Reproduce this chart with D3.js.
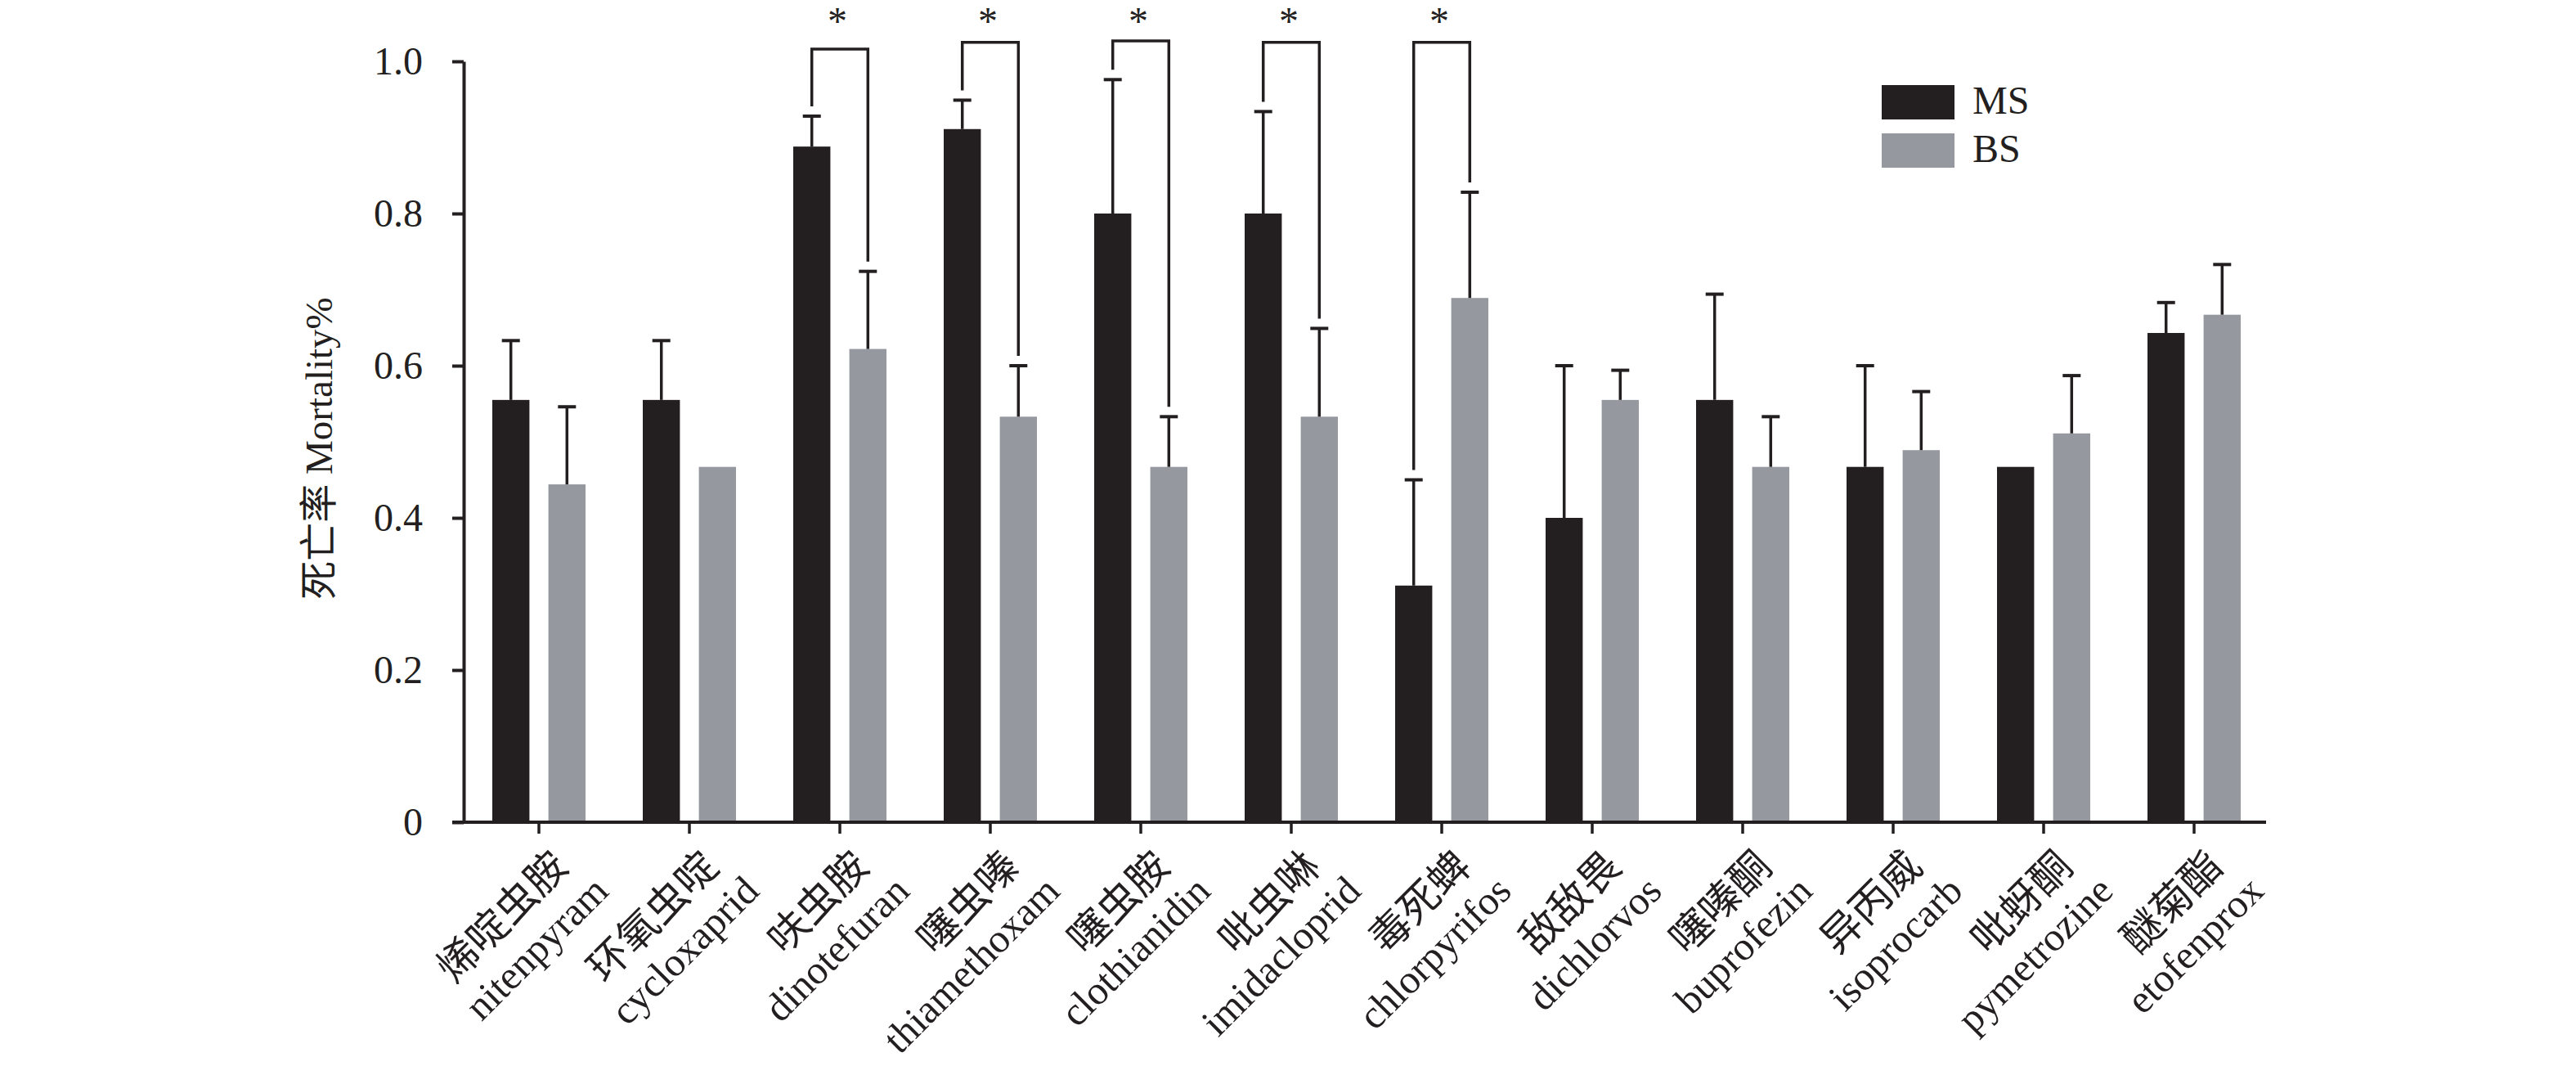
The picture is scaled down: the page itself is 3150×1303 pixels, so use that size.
<!DOCTYPE html>
<html>
<head>
<meta charset="utf-8">
<script src="https://cdn.jsdelivr.net/npm/d3@7"></script>
<style>
  body { margin: 0; background: #fff; }
  text { font-family: "Liberation Serif", "Noto Sans CJK SC", serif; fill: #231f20; }
</style>
</head>
<body>
<div id="chart"></div>
<script>
// 杀虫剂名称（中文 / 英文）
const namesCN = ['烯啶虫胺', '环氧虫啶', '呋虫胺', '噻虫嗪', '噻虫胺', '吡虫啉', '毒死蜱', '敌敌畏', '噻嗪酮', '异丙威', '吡蚜酮', '醚菊酯']
const namesEN = ['nitenpyram', 'cycloxaprid', 'dinotefuran', 'thiamethoxam', 'clothianidin', 'imidacloprid',
  'chlorpyrifos', 'dichlorvos', 'buprofezin', 'isoprocarb', 'pymetrozine', 'etofenprox']
const seriesNames = ['MS', 'BS']
const msMean = [0.555, 0.555, 0.888, 0.911, 0.800, 0.800, 0.311, 0.400, 0.555, 0.467, 0.467, 0.643]
const msErr = [0.078, 0.078, 0.040, 0.038, 0.176, 0.134, 0.139, 0.200, 0.139, 0.133, 0, 0.040]
const bsMean = [0.444, 0.467, 0.622, 0.533, 0.467, 0.533, 0.689, 0.555, 0.467, 0.489, 0.511, 0.667]
const bsErr = [0.102, 0, 0.102, 0.067, 0.066, 0.116, 0.139, 0.039, 0.066, 0.077, 0.076, 0.066]
// 显著性标记 (category index) + 括号顶高
const sigIndex = [2, 3, 4, 5, 6]
const sigTop = [1.016, 1.025, 1.027, 1.025, 1.025]
const starLevel = 1.035
const yTicks = [0, 0.2, 0.4, 0.6, 0.8, 1.0]

const colors = { MS: '#231f20', BS: '#96989f' }
const ink = '#231f20'

const svg = d3.select('#chart').append('svg')
  .attr('width', 3150)
  .attr('height', 1303)

const x = d3.scaleBand().domain(namesEN).range([567, 2775]).padding(0)
const xs = d3.scaleBand().domain(seriesNames).range([35, 149]).paddingInner(0.338)
const y = d3.scaleLinear().domain([0, 1]).range([1005, 75])

const data = namesEN.map((n, i) => ({
  name: n,
  i: i,
  vals: [
    { s: 'MS', v: msMean[i], e: msErr[i] },
    { s: 'BS', v: bsMean[i], e: bsErr[i] }
  ]
}))

// bars
const groups = svg.append('g').selectAll('g').data(data).join('g')
  .attr('transform', d => 'translate(' + x(d.name) + ',0)')

groups.selectAll('rect').data(d => d.vals).join('rect')
  .attr('x', d => xs(d.s))
  .attr('width', xs.bandwidth())
  .attr('y', d => y(d.v))
  .attr('height', d => y(0) - y(d.v))
  .attr('fill', d => colors[d.s])

// error bars
const errs = groups.selectAll('g.err').data(d => d.vals.filter(v => v.e > 0)).join('g')
  .attr('class', 'err')
errs.append('line')
  .attr('x1', d => xs(d.s) + xs.bandwidth() / 2)
  .attr('x2', d => xs(d.s) + xs.bandwidth() / 2)
  .attr('y1', d => y(d.v))
  .attr('y2', d => y(d.v + d.e))
  .attr('stroke', ink).attr('stroke-width', 3.5)
errs.append('line')
  .attr('x1', d => xs(d.s) + xs.bandwidth() / 2 - 11)
  .attr('x2', d => xs(d.s) + xs.bandwidth() / 2 + 11)
  .attr('y1', d => y(d.v + d.e))
  .attr('y2', d => y(d.v + d.e))
  .attr('stroke', ink).attr('stroke-width', 4)

// significance brackets
const gap = 12
sigIndex.forEach((ci, k) => {
  const d = data[ci]
  const xl = x(d.name) + xs('MS') + xs.bandwidth() / 2
  const xr = x(d.name) + xs('BS') + xs.bandwidth() / 2
  const yl = y(d.vals[0].v + d.vals[0].e) - gap
  const yr = y(d.vals[1].v + d.vals[1].e) - gap
  const yt = y(sigTop[k])
  svg.append('path')
    .attr('d', d3.line()([[xl, yl], [xl, yt], [xr, yt], [xr, yr]]))
    .attr('fill', 'none')
    .attr('stroke', ink)
    .attr('stroke-width', 3.5)
  svg.append('text')
    .attr('x', (xl + xr) / 2 - 3)
    .attr('y', y(starLevel))
    .attr('text-anchor', 'middle')
    .attr('font-size', 48)
    .text('*')
})

// y axis
const yAxis = svg.append('g')
  .attr('transform', 'translate(567,0)')
  .call(d3.axisLeft(y).tickValues(yTicks)
    .tickFormat(d => d === 0 ? '0' : d3.format('.1f')(d))
    .tickSize(14).tickSizeOuter(0).tickPadding(36))
yAxis.select('.domain').attr('stroke', ink).attr('stroke-width', 4)
yAxis.selectAll('.tick line').attr('stroke', ink).attr('stroke-width', 4)
yAxis.selectAll('.tick text')
  .attr('font-size', 48)
  .attr('font-family', '"Liberation Serif", serif')
  .attr('fill', ink)

// x axis
const xAxis = svg.append('g')
  .attr('transform', 'translate(0,' + y(0) + ')')
  .call(d3.axisBottom(x).tickSize(14).tickSizeOuter(0).tickFormat(''))
xAxis.select('.domain').remove()
xAxis.selectAll('.tick line').attr('stroke', ink).attr('stroke-width', 3.5)
xAxis.append('line')
  .attr('x1', x.range()[0] - 14)
  .attr('x2', x.range()[1] - 4)
  .attr('stroke', ink)
  .attr('stroke-width', 4)

// x labels
const labels = svg.append('g').selectAll('g').data(data).join('g')
  .attr('transform', d => 'translate(' + (x(d.name) + x.bandwidth() / 2 + 38) + ',1062) rotate(-45)')
labels.append('text')
  .attr('text-anchor', 'end')
  .attr('font-size', 50)
  .text(d => namesCN[d.i])
labels.append('text')
  .attr('text-anchor', 'end')
  .attr('x', 14)
  .attr('y', 56)
  .attr('font-size', 49)
  .text(d => d.name)

// y title
svg.append('text')
  .attr('transform', 'translate(406,' + ((y(0) + y(1)) / 2 + 8) + ') rotate(-90)')
  .attr('text-anchor', 'middle')
  .attr('font-size', 47)
  .text('死亡率 Mortality%')

// legend
const legend = svg.append('g').attr('transform', 'translate(2301,104)')
seriesNames.forEach((s, i) => {
  legend.append('rect')
    .attr('x', 0).attr('y', i * 59)
    .attr('width', 89).attr('height', 42)
    .attr('fill', colors[s])
  legend.append('text')
    .attr('x', 111).attr('y', i * 59 + 35)
    .attr('font-size', 48)
    .text(s)
})
</script>
</body>
</html>
